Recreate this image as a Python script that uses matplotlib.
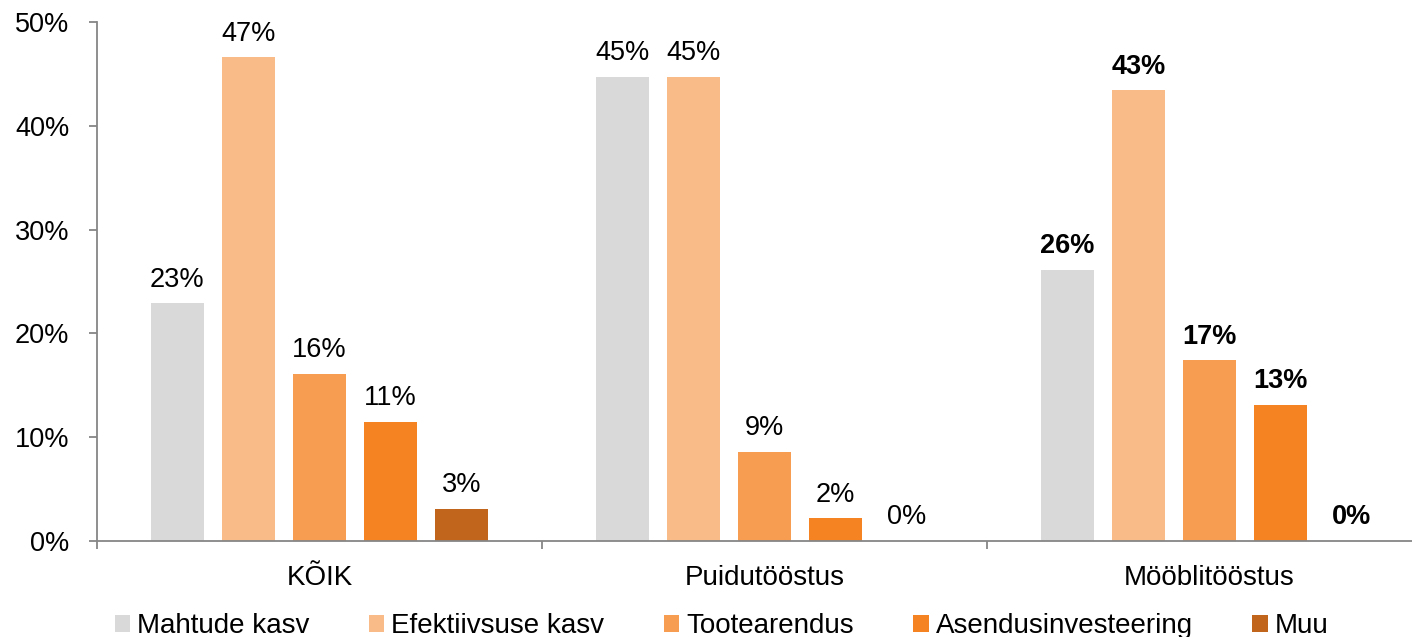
import numpy as np
import matplotlib.pyplot as plt
from matplotlib.ticker import FixedLocator, PercentFormatter

plt.rcParams['font.family'] = ['Liberation Sans', 'DejaVu Sans']

groups = ['KÕIK', 'Puidutööstus', 'Mööblitööstus']
series = ['Mahtude kasv', 'Efektiivsuse kasv', 'Tootearendus', 'Asendusinvesteering', 'Muu']
values = [
    [22.9, 44.7, 26.1],   # Mahtude kasv
    [46.6, 44.7, 43.4],   # Efektiivsuse kasv
    [16.1, 8.6, 17.4],    # Tootearendus
    [11.5, 2.2, 13.1],    # Asendusinvesteering
    [3.1, 0.0, 0.0],      # Muu
]
labels = [
    ['23%', '45%', '26%'],
    ['47%', '45%', '43%'],
    ['16%', '9%', '17%'],
    ['11%', '2%', '13%'],
    ['3%', '0%', '0%'],
]
colors = ['#D9D9D9', '#F9BB87', '#F79D52', '#F58322', '#C0651B']

fig = plt.figure(figsize=(14.12, 6.37), dpi=100)
ax = fig.add_axes([0.0687, 0.1507, 0.9313, 0.8148])

x = np.arange(len(groups))
step = 0.16
width = 0.119
for i, (name, vals) in enumerate(zip(series, values)):
    pos = x + (i - 2) * step
    ax.bar(pos, vals, width, color=colors[i], label=name, zorder=2)
    for j, (p, v) in enumerate(zip(pos, vals)):
        ax.annotate(labels[i][j], (p, v), xytext=(0, 12), textcoords='offset points',
                    ha='center', va='baseline', fontsize=19.5,
                    fontweight='bold' if j == 2 else 'normal')

ax.set_ylim(0, 50)
ax.set_xlim(-0.5, 2.455)
ax.yaxis.set_major_locator(FixedLocator([0, 10, 20, 30, 40, 50]))
ax.yaxis.set_major_formatter(PercentFormatter(decimals=0))
ax.set_xticks(x)
ax.set_xticklabels(groups)
ax.xaxis.set_minor_locator(FixedLocator([-0.5, 0.5, 1.5]))

for s in ['top', 'right']:
    ax.spines[s].set_visible(False)
for s in ['left', 'bottom']:
    ax.spines[s].set_color('#868686')
    ax.spines[s].set_linewidth(1.3)

ax.tick_params(axis='y', length=6, width=1.3, color='#868686', labelsize=19.5, pad=14)
ax.tick_params(axis='x', which='major', length=0, labelsize=20, pad=17)
ax.tick_params(axis='x', which='minor', length=6, width=1.3, color='#868686')

ax.legend(loc='upper center', bbox_to_anchor=(0.511, 0.037), bbox_transform=fig.transFigure,
          ncol=5, frameon=False, fontsize=20, handlelength=0.55, handleheight=0.55,
          handletextpad=0.25, columnspacing=2.15, borderaxespad=0, borderpad=0)

fig.savefig('out.png', dpi=100)
